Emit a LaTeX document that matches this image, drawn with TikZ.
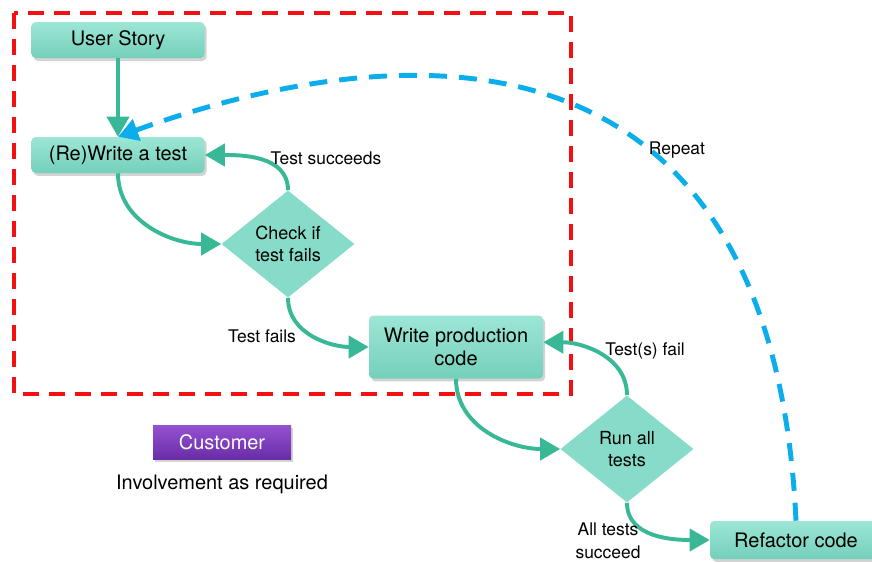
\documentclass[tikz,border=0pt]{standalone}
\usepackage{fontspec}
\setmainfont{TeX Gyre Heros}
\usepackage{tikz}
\usetikzlibrary{shapes.geometric,arrows.meta,positioning,shadows}

\definecolor{stepfill}{HTML}{86DCC8}
\definecolor{steptop}{HTML}{9DE6D6}
\definecolor{stepbot}{HTML}{74D0BA}
\definecolor{flowteal}{HTML}{38B896}
\definecolor{loopblue}{HTML}{0BAEEA}
\definecolor{scopered}{HTML}{F41010}
\definecolor{custtop}{HTML}{9552D2}
\definecolor{custbot}{HTML}{6A2DA6}

\begin{document}
\begin{tikzpicture}[
    stepbox/.style={rectangle, rounded corners=3pt, top color=steptop, bottom color=stepbot, draw=none,
        drop shadow={opacity=0.35, shadow xshift=1.5pt, shadow yshift=-2pt},
        minimum width=4.325cm, minimum height=0.9cm, align=center, font=\fontsize{14.2}{16.5}\selectfont},
    decision/.style={diamond, fill=stepfill, draw=none, minimum width=3.325cm, minimum height=2.675cm,
        inner sep=0pt, align=center, font=\fontsize{12.8}{15.5}\selectfont},
    custbox/.style={rectangle, top color=custtop, bottom color=custbot, draw=none, text=white,
        drop shadow={opacity=0.35, shadow xshift=1.5pt, shadow yshift=-2pt},
        minimum width=3.45cm, minimum height=0.85cm, font=\fontsize{14.2}{16.5}\selectfont},
    label/.style={font=\fontsize{12.4}{16}\selectfont, align=center},
    arrow/.style={-{Triangle[length=0.5cm, width=0.55cm]}, line width=2.8pt, draw=flowteal},
]
    \useasboundingbox (0,0) rectangle (21.8,-14.05);

    % Scope of the test-first part
    \draw[scopered, line width=2.5pt, dash pattern=on 0.4cm off 0.25cm] (0.35,-0.325) rectangle (14.275,-9.85);

    % Steps
    \node[stepbox] (story) at (2.95,-1.0) {User Story};
    \node[stepbox] (rewrite) at (2.95,-3.875) {(Re)Write a test};
    \node[decision] (check) at (7.2,-6.1) {Check if\\test fails};
    \node[stepbox, minimum width=4.35cm, minimum height=1.575cm] (prod) at (11.4,-8.675) {Write production\\code};
    \node[decision] (runall) at (15.675,-11.225) {Run all\\tests};
    \node[stepbox, minimum width=4.3cm, minimum height=0.95cm] (refactor) at (19.9,-13.5) {Refactor code};

    % Customer
    \node[custbox] (customer) at (5.55,-11.05) {Customer};
    \node[font=\fontsize{14.2}{16.5}\selectfont] (involve) at (5.55,-12.1) {Involvement as required};

    % Arrows
    \draw[arrow] (story) -- (rewrite);
    \draw[arrow] (rewrite.south) to[out=-90, in=180] (check.west);
    \draw[arrow] (check.north) to[out=90, in=0] (rewrite.east);
    \draw[arrow] (check.south) to[out=-90, in=180] (prod.west);
    \draw[arrow] (prod.south) to[out=-90, in=180] (runall.west);
    \draw[arrow] (runall.north) to[out=90, in=0] ([yshift=0.12cm]prod.east);
    \draw[arrow] (runall.south) to[out=-90, in=180] (refactor.west);

    % Repeat loop
    \draw[-{Triangle[length=0.5cm, width=0.55cm]}, line width=3.5pt, draw=loopblue,
        dash pattern=on 0.45cm off 0.3cm]
        (refactor.north) .. controls (19.25,0.75) and (8.6,-1.375) .. (rewrite.north);

    % Labels
    \node[label] (lsucc) at (8.15,-3.95) {Test succeeds};
    \node[label] (lfail) at (6.55,-8.4) {Test fails};
    \node[label] (lsfail) at (16.125,-8.775) {Test(s) fail};
    \node[label] (lrep) at (16.925,-3.75) {Repeat};
    \node[label] (lall) at (15.2,-13.525) {All tests\\succeed};
\end{tikzpicture}
\end{document}
